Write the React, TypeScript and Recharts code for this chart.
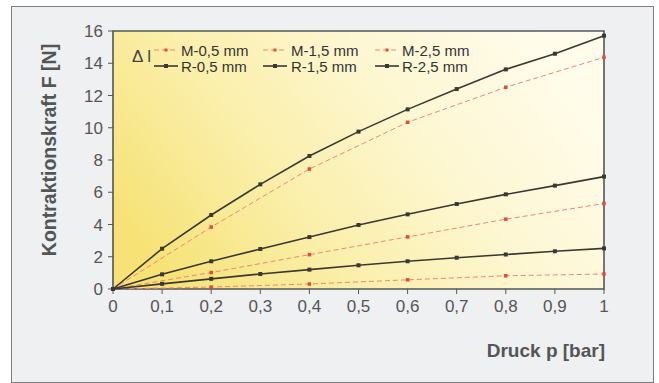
import React from 'react';
import { LineChart, Line, XAxis, YAxis, ReferenceArea, Label } from 'recharts';

const pressure = [0, 0.1, 0.2, 0.3, 0.4, 0.5, 0.6, 0.7, 0.8, 0.9, 1];
const xTicks = [0, 0.1, 0.2, 0.3, 0.4, 0.5, 0.6, 0.7, 0.8, 0.9, 1];
const yTicks = [0, 2, 4, 6, 8, 10, 12, 14, 16];

const r05 = [0, 0.32, 0.63, 0.93, 1.2, 1.47, 1.72, 1.94, 2.14, 2.34, 2.52];
const r15 = [0, 0.91, 1.72, 2.48, 3.22, 3.97, 4.63, 5.27, 5.87, 6.41, 6.97];
const r25 = [0, 2.5, 4.59, 6.49, 8.25, 9.76, 11.14, 12.4, 13.62, 14.59, 15.71];
const m05 = [0, null, 0.12, null, 0.31, null, 0.57, null, 0.82, null, 0.93];
const m15 = [0, null, 1.02, null, 2.13, null, 3.23, null, 4.33, null, 5.3];
const m25 = [0, null, 3.84, null, 7.44, null, 10.34, null, 12.51, null, 14.37];

const mNames = ['M-0,5 mm', 'M-1,5 mm', 'M-2,5 mm'];
const rNames = ['R-0,5 mm', 'R-1,5 mm', 'R-2,5 mm'];

const data = pressure.map((p, i) => ({
  p,
  m05: m05[i],
  m15: m15[i],
  m25: m25[i],
  r05: r05[i],
  r15: r15[i],
  r25: r25[i],
}));

const FONT = '"Liberation Sans", Arial, Helvetica, sans-serif';
const R_COLOR = '#3a3832';
const M_COLOR = '#ec8878';
const M_DOT = '#e5483c';

const SquareDot = (props: any) => {
  const { cx, cy, fill, size, payload, dataKey } = props;
  if (cx == null || cy == null || (payload && payload[dataKey] == null)) return <g key={props.key} />;
  return <rect key={props.key} x={cx - size / 2} y={cy - size / 2} width={size} height={size} fill={fill} />;
};

const LegendBox = () => {
  const colX = [26, 135, 247];
  const textX = [53, 163, 274];
  return (
    <svg width={360} height={40} style={{ display: 'block', overflow: 'visible' }}>
      <text x={4} y={24} fontSize={17} fill="#444" fontFamily={FONT}>Δ l</text>
      {mNames.map((n, i) => (
        <g key={n}>
          <line x1={colX[i]} x2={colX[i] + 24} y1={12} y2={12} stroke={M_COLOR} strokeWidth={1.2} strokeDasharray="5 3" />
          <rect x={colX[i] + 10.5} y={10.5} width={3} height={3} fill={M_DOT} />
          <text x={textX[i]} y={17.5} fontSize={15} fill="#333" fontFamily={FONT}>{n}</text>
        </g>
      ))}
      {rNames.map((n, i) => (
        <g key={n}>
          <line x1={colX[i]} x2={colX[i] + 24} y1={28} y2={28} stroke={R_COLOR} strokeWidth={1.6} />
          <rect x={colX[i] + 10} y={26} width={4} height={4} fill={R_COLOR} />
          <text x={textX[i]} y={33.5} fontSize={15} fill="#333" fontFamily={FONT}>{n}</text>
        </g>
      ))}
    </svg>
  );
};

export default function App() {
  return (
    <div style={{ position: 'absolute', left: 0, top: 0, width: 659, height: 383, background: '#ffffff', fontFamily: FONT }}>
      <div
        style={{
          position: 'absolute',
          left: 11,
          top: 6,
          width: 641,
          height: 375,
          border: '1.5px solid #7d7d7f',
          background: '#eef0f2',
        }}
      />
      <div style={{ position: 'absolute', left: 0, top: 0 }}>
        <LineChart width={659} height={383} data={data} margin={{ top: 31, right: 55, left: 0, bottom: 64 }}>
          <defs>
            <linearGradient id="plotBg" x1="0" y1="0.7" x2="1" y2="0.3">
              <stop offset="0" stopColor="#f6e275" />
              <stop offset="0.3" stopColor="#faeea6" />
              <stop offset="0.65" stopColor="#fdf7d2" />
              <stop offset="1" stopColor="#fffcec" />
            </linearGradient>
          </defs>
          <XAxis
            dataKey="p"
            type="number"
            domain={[0, 1]}
            ticks={xTicks}
            tickFormatter={(v: number) => String(v).replace('.', ',')}
            axisLine={false}
            tickLine={{ stroke: '#555' }}
            tickSize={5}
            tickMargin={6}
            height={30}
            interval={0}
            tick={{ fontSize: 17, fill: '#555', fontFamily: FONT }}
          >
            <Label
              content={() => (
                <text x={605} y={357} textAnchor="end" fontSize={19} fontWeight="bold" fill="#555" fontFamily={FONT}>
                  Druck p [bar]
                </text>
              )}
            />
          </XAxis>
          <YAxis
            type="number"
            domain={[0, 16]}
            ticks={yTicks}
            axisLine={false}
            tickLine={{ stroke: '#555' }}
            tickSize={5}
            tickMargin={5}
            width={113}
            interval={0}
            tick={{ fontSize: 17, fill: '#555', fontFamily: FONT }}
          >
            <Label
              content={() => (
                <text
                  x={49}
                  y={150}
                  transform="rotate(-90 49 150)"
                  textAnchor="middle"
                  dominantBaseline="central"
                  fontSize={19.5}
                  fontWeight="bold"
                  fill="#555"
                  fontFamily={FONT}
                >
                  Kontraktionskraft F [N]
                </text>
              )}
            />
          </YAxis>
          <ReferenceArea x1={0} x2={1} y1={0} y2={16} fill="url(#plotBg)" fillOpacity={1} stroke="#555" strokeWidth={1.6} />
          <Line dataKey="m05" name={mNames[0]} stroke={M_COLOR} strokeWidth={1} strokeDasharray="5 3" connectNulls isAnimationActive={false} dot={(p: any) => <SquareDot {...p} fill={M_DOT} size={3.5} />} activeDot={false} />
          <Line dataKey="m15" name={mNames[1]} stroke={M_COLOR} strokeWidth={1} strokeDasharray="5 3" connectNulls isAnimationActive={false} dot={(p: any) => <SquareDot {...p} fill={M_DOT} size={3.5} />} activeDot={false} />
          <Line dataKey="m25" name={mNames[2]} stroke={M_COLOR} strokeWidth={1} strokeDasharray="5 3" connectNulls isAnimationActive={false} dot={(p: any) => <SquareDot {...p} fill={M_DOT} size={3.5} />} activeDot={false} />
          <Line dataKey="r05" name={rNames[0]} stroke={R_COLOR} strokeWidth={1.6} isAnimationActive={false} dot={(p: any) => <SquareDot {...p} fill={R_COLOR} size={4} />} activeDot={false} />
          <Line dataKey="r15" name={rNames[1]} stroke={R_COLOR} strokeWidth={1.6} isAnimationActive={false} dot={(p: any) => <SquareDot {...p} fill={R_COLOR} size={4} />} activeDot={false} />
          <Line dataKey="r25" name={rNames[2]} stroke={R_COLOR} strokeWidth={1.6} isAnimationActive={false} dot={(p: any) => <SquareDot {...p} fill={R_COLOR} size={4} />} activeDot={false} />
        </LineChart>
      </div>
      <div style={{ position: 'absolute', left: 128, top: 38, width: 360, height: 40 }}>
        <LegendBox />
      </div>
    </div>
  );
}
